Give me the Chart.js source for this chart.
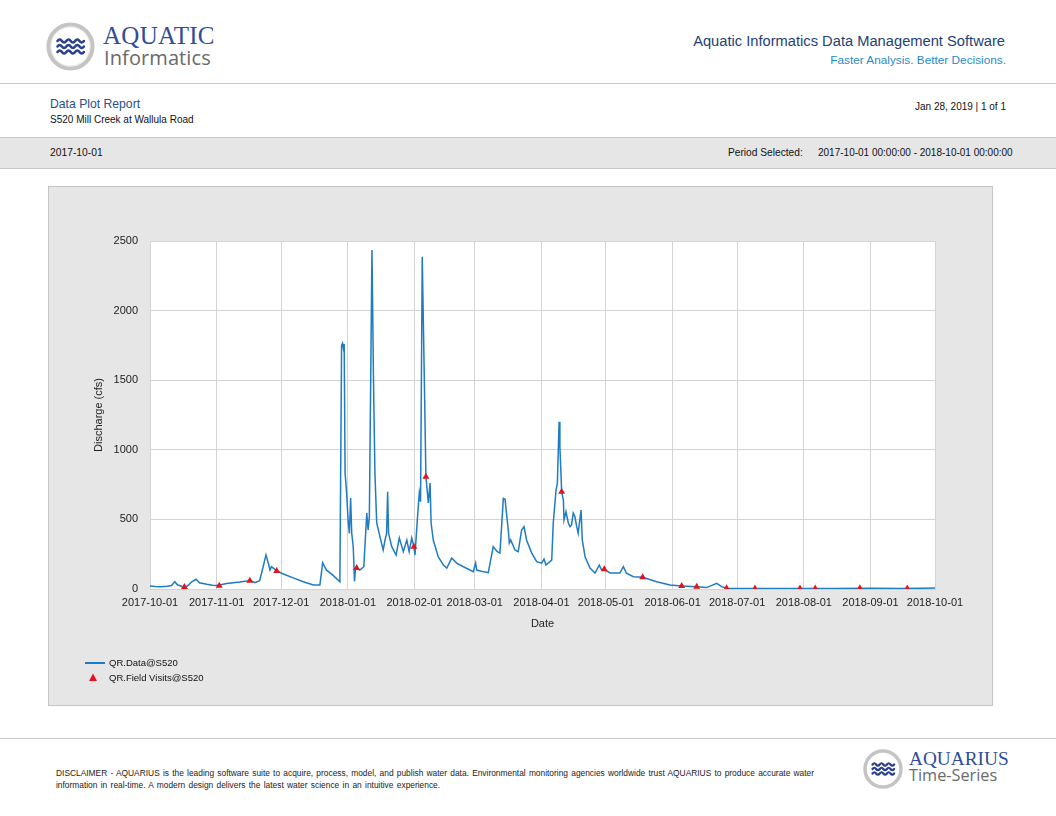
<!DOCTYPE html>
<html>
<head>
<meta charset="utf-8">
<script src="https://cdn.jsdelivr.net/npm/chart.js@4.4.1/dist/chart.umd.min.js"></script>
<style>
  html, body { margin: 0; padding: 0; background: #ffffff; }
  body { width: 1056px; height: 816px; position: relative; overflow: hidden; font-family: "Liberation Sans", Arial, sans-serif; color: #222; }
  .abs { position: absolute; white-space: nowrap; }
  .hline { position: absolute; left: 0; width: 1056px; height: 1px; background: #c8c8c8; }
</style>
</head>
<body>
<script>
// ---------------- DATA ----------------
const qrTimes = [
'2017-10-01 00:00','2017-10-03 12:00','2017-10-06 00:00','2017-10-09 00:00','2017-10-11 00:00','2017-10-12 14:00','2017-10-13 12:00','2017-10-14 00:00','2017-10-16 00:00','2017-10-17 12:00',
'2017-10-19 00:00','2017-10-20 10:00','2017-10-22 10:00','2017-10-24 00:00','2017-10-27 10:00','2017-10-30 00:00','2017-11-01 00:00','2017-11-03 00:00','2017-11-05 14:00','2017-11-08 17:00',
'2017-11-11 19:00','2017-11-15 00:00','2017-11-16 10:00','2017-11-18 19:00','2017-11-21 00:00','2017-11-23 00:00','2017-11-23 22:00','2017-11-25 00:00','2017-11-25 19:00','2017-11-26 12:00',
'2017-11-27 07:00','2017-11-28 22:00','2017-12-02 00:00','2017-12-06 14:00','2017-12-11 07:00','2017-12-16 00:00','2017-12-19 00:00','2017-12-20 07:00','2017-12-22 00:00','2017-12-25 00:00',
'2017-12-28 07:00','2017-12-29 02:00','2017-12-29 12:00','2017-12-29 22:00','2017-12-30 07:00','2017-12-30 17:00','2017-12-31 10:00','2018-01-01 02:00','2018-01-01 17:00','2018-01-02 07:00',
'2018-01-02 19:00','2018-01-03 12:00','2018-01-04 02:00','2018-01-04 12:00','2018-01-05 02:00','2018-01-06 14:00','2018-01-08 10:00','2018-01-09 19:00','2018-01-10 10:00','2018-01-11 00:00',
'2018-01-12 05:00','2018-01-12 22:00','2018-01-13 14:00','2018-01-14 10:00','2018-01-15 22:00','2018-01-17 10:00','2018-01-18 07:00','2018-01-19 00:00','2018-01-19 12:00','2018-01-19 22:00',
'2018-01-21 10:00','2018-01-23 10:00','2018-01-24 22:00','2018-01-26 19:00','2018-01-28 10:00','2018-01-29 12:00','2018-01-30 17:00','2018-01-31 17:00','2018-02-01 05:00','2018-02-02 07:00',
'2018-02-03 05:00','2018-02-03 19:00','2018-02-04 14:00','2018-02-05 12:00','2018-02-06 07:00','2018-02-07 10:00','2018-02-08 05:00','2018-02-08 17:00','2018-02-09 17:00','2018-02-12 00:00',
'2018-02-14 10:00','2018-02-16 00:00','2018-02-18 07:00','2018-02-20 14:00','2018-02-23 17:00','2018-02-28 07:00','2018-03-01 10:00','2018-03-01 22:00','2018-03-04 00:00','2018-03-07 07:00',
'2018-03-09 14:00','2018-03-11 12:00','2018-03-12 17:00','2018-03-14 07:00','2018-03-15 02:00','2018-03-16 14:00','2018-03-17 02:00','2018-03-17 17:00','2018-03-19 17:00','2018-03-21 05:00',
'2018-03-22 19:00','2018-03-23 22:00','2018-03-25 02:00','2018-03-27 12:00','2018-03-29 19:00','2018-04-01 02:00','2018-04-02 05:00','2018-04-03 02:00','2018-04-05 19:00','2018-04-06 12:00',
'2018-04-07 19:00','2018-04-08 10:00','2018-04-09 05:00','2018-04-09 14:00','2018-04-10 10:00','2018-04-11 05:00','2018-04-11 12:00','2018-04-12 10:00','2018-04-13 12:00','2018-04-14 07:00',
'2018-04-15 00:00','2018-04-15 19:00','2018-04-16 14:00','2018-04-17 10:00','2018-04-18 02:00','2018-04-19 10:00','2018-04-20 00:00','2018-04-21 07:00','2018-04-23 14:00','2018-04-25 22:00',
'2018-04-27 22:00','2018-04-29 00:00','2018-04-30 05:00','2018-05-02 22:00','2018-05-07 12:00','2018-05-09 02:00','2018-05-10 14:00','2018-05-13 17:00','2018-05-18 02:00','2018-05-24 14:00',
'2018-05-30 19:00','2018-06-05 05:00','2018-06-12 05:00','2018-06-16 19:00','2018-06-21 12:00','2018-06-23 19:00','2018-06-26 02:00','2018-07-02 07:00','2018-07-15 00:00','2018-08-01 00:00',
'2018-08-15 00:00','2018-09-01 00:00','2018-09-15 00:00','2018-09-25 00:00','2018-10-01 00:00'
];
const qrValues = [
22,18,17,20,25,52,35,29,18,13,
30,52,70,45,34,27,25,30,40,45,
50,57,62,45,60,185,245,185,137,160,
150,130,108,80,52,29,29,189,137,100,
52,1750,1765,1730,1760,833,690,500,400,654,
400,304,55,140,150,136,160,545,424,520,
2435,1500,833,474,376,280,352,400,699,400,
304,244,366,268,352,268,366,304,244,496,
690,627,2387,1552,807,618,761,474,352,232,
172,150,222,186,160,124,186,136,128,117,
304,268,258,651,645,424,330,352,280,268,
424,448,352,258,196,186,215,172,208,474,
711,761,1202,1022,699,639,496,555,474,448,
460,545,519,448,400,567,352,232,150,115,
172,136,141,115,115,160,113,88,84,52,
29,22,17,10,41,17,5,4,3,3,
4,5,3,6,8
];
const visitTimes = [
'2017-10-17 00:00','2017-11-02 05:00','2017-11-16 10:00','2017-11-28 22:00','2018-01-05 02:00','2018-01-31 17:00',
'2018-02-06 07:00','2018-04-10 10:00','2018-04-30 05:00','2018-05-18 02:00','2018-06-05 05:00','2018-06-12 05:00',
'2018-06-26 02:00','2018-07-09 07:00','2018-07-30 05:00','2018-08-06 07:00','2018-08-27 02:00','2018-09-18 02:00'
];
const visitValues = [15,24,60,130,150,304,807,699,141,84,22,17,5,3,3,3,5,3];
const xTickDates = ['2017-10-01','2017-11-01','2017-12-01','2018-01-01','2018-02-01','2018-03-01','2018-04-01',
                    '2018-05-01','2018-06-01','2018-07-01','2018-08-01','2018-09-01','2018-10-01'];
const yTickValues = [0, 500, 1000, 1500, 2000, 2500];
const seriesNames = ['QR.Data@S520', 'QR.Field Visits@S520'];
</script>

<!-- Header logo -->
<svg class="abs" style="left:44px;top:20px" width="56" height="56" viewBox="0 0 56 56">
  <circle cx="26.5" cy="26.5" r="22" fill="#ffffff" stroke="#c4c4c4" stroke-width="4"/>
  <circle cx="26.5" cy="26.5" r="19.6" fill="none" stroke="#e3e3e3" stroke-width="1"/>
  <g fill="none" stroke="#2b3f8f" stroke-width="2.6" stroke-linecap="round">
    <path d="M13.5 21 q2.2 -3 4.4 0 t4.4 0 t4.4 0 t4.4 0 t4.4 0 t4.4 0"/>
    <path d="M13.5 26.5 q2.2 -3 4.4 0 t4.4 0 t4.4 0 t4.4 0 t4.4 0 t4.4 0"/>
    <path d="M13.5 32 q2.2 -3 4.4 0 t4.4 0 t4.4 0 t4.4 0 t4.4 0 t4.4 0"/>
  </g>
</svg>
<div class="abs" style="left:103px;top:22px;font-family:'Liberation Serif','DejaVu Serif',serif;font-size:25px;color:#2f4c9c;letter-spacing:0.3px;line-height:28px">AQUATIC</div>
<div class="abs" style="left:104px;top:44px;font-family:'Open Sans','DejaVu Sans',sans-serif;font-size:20px;color:#6a6a6a;line-height:27px;letter-spacing:0.1px">Informatics</div>

<div class="abs" style="right:51px;top:33px;font-size:14.7px;color:#253f73;line-height:17px">Aquatic Informatics Data Management Software</div>
<div class="abs" style="right:50px;top:53px;font-size:11.8px;color:#1f8ac9;line-height:14px">Faster Analysis. Better Decisions.</div>

<div class="hline" style="top:83px"></div>

<div class="abs" style="left:50px;top:97px;font-size:12.2px;color:#2a4f8c;line-height:15px">Data Plot Report</div>
<div class="abs" style="left:50px;top:113px;font-size:10px;color:#111;line-height:13px">S520 Mill Creek at Wallula Road</div>
<div class="abs" style="right:50px;top:100px;font-size:10px;color:#111;line-height:13px">Jan 28, 2019 | 1 of 1</div>

<div class="abs" style="left:0;top:137px;width:1056px;height:30px;background:#e6e6e6;border-top:1px solid #c8c8c8;border-bottom:1px solid #c8c8c8"></div>
<div class="abs" style="left:50px;top:146px;font-size:10.3px;color:#111;line-height:13px">2017-10-01</div>
<div class="abs" style="left:728px;top:146px;font-size:10.2px;color:#111;line-height:13px">Period Selected:</div>
<div class="abs" style="left:818px;top:146px;font-size:10px;color:#111;line-height:13px">2017-10-01 00:00:00 - 2018-10-01 00:00:00</div>

<!-- Chart panel -->
<div class="abs" style="left:48px;top:186px;width:943px;height:518px;background:#e6e6e6;border:1px solid #c4c4c4"></div>
<canvas id="chart" width="945" height="520" style="position:absolute;left:48px;top:186px"></canvas>

<!-- Legend -->
<div class="abs" style="left:85px;top:662px;width:20px;height:1.5px;background:#1f7bc2"></div>
<div class="abs" id="leg0" style="left:109px;top:656px;font-size:9.5px;color:#111;line-height:13px"></div>
<svg class="abs" style="left:88px;top:673px" width="10" height="9"><polygon points="5,0.5 9,8 1,8" fill="#e3141b"/></svg>
<div class="abs" id="leg1" style="left:109px;top:671px;font-size:9.5px;color:#111;line-height:13px"></div>

<!-- Footer -->
<div class="hline" style="top:738px"></div>
<div class="abs" style="left:56px;top:767px;width:758px;white-space:nowrap;text-align:justify;text-align-last:justify;font-size:8.4px;line-height:12px;color:#222">DISCLAIMER - AQUARIUS is the leading software suite to acquire, process, model, and publish water data. Environmental monitoring agencies worldwide trust AQUARIUS to produce accurate water</div>
<div class="abs" style="left:56px;top:779px;font-size:8.4px;line-height:12px;color:#222;word-spacing:1px">information in real-time. A modern design delivers the latest water science in an intuitive experience.</div>

<svg class="abs" style="left:862px;top:748px" width="46" height="44" viewBox="0 0 46 44">
  <circle cx="21" cy="21" r="18" fill="#ffffff" stroke="#c4c4c4" stroke-width="3.5"/>
  <g fill="none" stroke="#2b3f8f" stroke-width="2.2" stroke-linecap="round">
    <path d="M10.5 16.5 q1.8 -2.5 3.6 0 t3.6 0 t3.6 0 t3.6 0 t3.6 0 t3.6 0"/>
    <path d="M10.5 21 q1.8 -2.5 3.6 0 t3.6 0 t3.6 0 t3.6 0 t3.6 0 t3.6 0"/>
    <path d="M10.5 25.5 q1.8 -2.5 3.6 0 t3.6 0 t3.6 0 t3.6 0 t3.6 0 t3.6 0"/>
  </g>
</svg>
<div class="abs" style="left:909px;top:748px;font-family:'Liberation Serif','DejaVu Serif',serif;font-size:19.3px;color:#2f4c9c;line-height:22px">AQUARIUS</div>
<div class="abs" style="left:909px;top:765px;font-family:'Open Sans','DejaVu Sans',sans-serif;font-size:16.3px;color:#6a6a6a;line-height:21px">Time-Series</div>

<script>
const toMs = s => Date.parse(s.replace(' ', 'T') + (s.length > 10 ? ':00Z' : 'T00:00:00Z'));
const pad2 = n => (n < 10 ? '0' : '') + n;
const fmtDate = ms => { const d = new Date(ms); return d.getUTCFullYear() + '-' + pad2(d.getUTCMonth() + 1) + '-' + pad2(d.getUTCDate()); };

document.getElementById('leg0').textContent = seriesNames[0];
document.getElementById('leg1').textContent = seriesNames[1];

const lineData = qrTimes.map((t, i) => ({ x: toMs(t), y: qrValues[i] }));
const visitData = visitTimes.map((t, i) => ({ x: toMs(t), y: visitValues[i] }));
const xTickMs = xTickDates.map(toMs);

const plotBg = {
  id: 'plotBg',
  beforeDraw(chart) {
    const { ctx, chartArea: a } = chart;
    ctx.save();
    ctx.fillStyle = '#ffffff';
    ctx.fillRect(a.left, a.top, a.right - a.left, a.bottom - a.top);
    ctx.restore();
  }
};

const font = { family: "'Liberation Sans', Arial, sans-serif", size: 11 };

new Chart(document.getElementById('chart'), {
  type: 'scatter',
  data: {
    datasets: [
      {
        label: seriesNames[1],
        data: visitData,
        showLine: false,
        pointStyle: 'triangle',
        pointRadius: 4,
        backgroundColor: '#e3141b',
        borderColor: '#e3141b',
        borderWidth: 0,
        order: 0
      },
      {
        label: seriesNames[0],
        data: lineData,
        showLine: true,
        borderColor: '#1f7bc2',
        borderWidth: 1.5,
        pointRadius: 0,
        tension: 0,
        order: 1
      }
    ]
  },
  options: {
    responsive: false,
    animation: false,
    events: [],
    layout: { padding: { left: 40, top: 55, right: 58, bottom: 75 } },
    plugins: { legend: { display: false }, tooltip: { enabled: false } },
    scales: {
      x: {
        type: 'linear',
        min: xTickMs[0],
        max: xTickMs[xTickMs.length - 1],
        afterBuildTicks: scale => { scale.ticks = xTickMs.map(v => ({ value: v })); },
        afterFit: scale => { scale.height = 42; },
        ticks: {
          autoSkip: false, maxRotation: 0, minRotation: 0, padding: 7,
          color: '#222', font: font,
          callback: v => fmtDate(v)
        },
        grid: { color: '#d3d3d3', lineWidth: 1, drawTicks: false },
        border: { color: '#d3d3d3' },
        title: { display: true, text: 'Date', color: '#222', font: font, padding: { top: 10, bottom: 0 } }
      },
      y: {
        min: 0,
        max: 2500,
        afterBuildTicks: scale => { scale.ticks = yTickValues.map(v => ({ value: v })); },
        afterFit: scale => { scale.width = 62; },
        ticks: { padding: 12, color: '#222', font: font, callback: v => String(v) },
        grid: { color: '#d3d3d3', lineWidth: 1, drawTicks: false },
        border: { color: '#d3d3d3' },
        title: { display: true, text: 'Discharge (cfs)', color: '#222', font: font, padding: { top: 4, bottom: 0 } }
      }
    }
  },
  plugins: [plotBg]
});
</script>
</body>
</html>
